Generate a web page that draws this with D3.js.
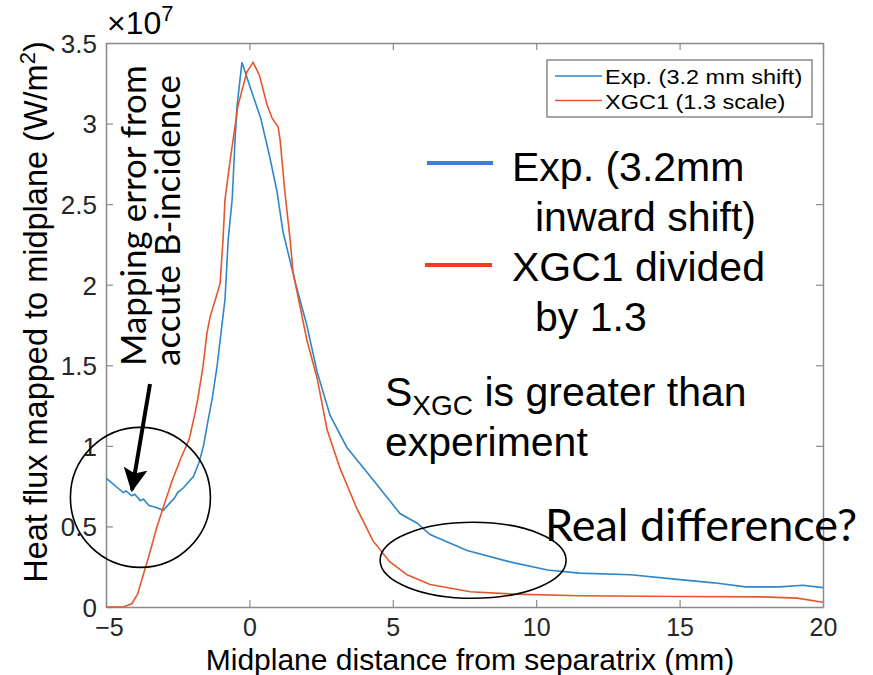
<!DOCTYPE html>
<html>
<head>
<meta charset="utf-8">
<script src="https://d3js.org/d3.v7.min.js"></script>
<title>Heat flux - Exp vs XGC1</title>
<style>
  body { margin: 0; background: #fff; }
  .tick text { font-family: "Liberation Sans", Arial, sans-serif; fill: #262626; }
  .big { font-family: "Liberation Sans", Arial, sans-serif; fill: #000; }
  .cal { font-family: Lato, "Open Sans", sans-serif; fill: #000; }
</style>
</head>
<body>
<div id="chart"></div>
<script>
// x in mm, heat flux in units of 1e7 W/m^2
var expX = [-5, -4.8, -4.6, -4.4, -4.3, -4.1, -4.0, -3.8, -3.7, -3.5, -3.3, -3.0, -2.8, -2.6, -2.5, -2.3, -2.1, -1.95,
            -1.75, -1.6, -1.45, -1.3, -1.13, -0.85, -0.74, -0.6, -0.5, -0.43, -0.26, 0.0, 0.4, 0.7, 0.96, 1.17, 1.59,
            2.0, 2.36, 2.81, 3.4, 4.31, 5.25, 5.85, 6.3, 7.59, 9.08, 10.4, 11.5, 13.3, 15, 16.2, 17.3, 18.5, 19.3, 20];
var expY = [0.80, 0.77, 0.74, 0.71, 0.72, 0.69, 0.70, 0.66, 0.67, 0.63, 0.62, 0.60, 0.64, 0.68, 0.71, 0.74, 0.78, 0.81,
            0.90, 1.00, 1.15, 1.29, 1.49, 1.91, 2.28, 2.53, 2.90, 3.11, 3.38, 3.24, 3.03, 2.80, 2.58, 2.33, 2.02,
            1.75, 1.46, 1.19, 0.99, 0.79, 0.58, 0.52, 0.45, 0.35, 0.28, 0.23, 0.21, 0.20, 0.17, 0.15, 0.125, 0.125, 0.135, 0.12];

var xgcX = [-5, -4.4, -4.1, -3.9, -3.75, -3.5, -3.22, -3.0, -2.7, -2.4, -2.1, -1.9, -1.8, -1.62, -1.48, -1.37, -1.15,
            -1.02, -0.92, -0.85, -0.68, -0.4, -0.09, 0.13, 0.35, 0.61, 0.8, 1.0, 1.07, 1.24, 1.42, 1.52, 2.0, 2.36,
            2.71, 3.16, 3.75, 4.31, 4.9, 5.5, 6.3, 7.7, 9.2, 11.5, 15, 17.9, 19.1, 20];
var xgcY = [0, 0, 0.02, 0.08, 0.17, 0.32, 0.50, 0.62, 0.78, 0.92, 1.04, 1.20, 1.29, 1.49, 1.70, 1.80, 1.93,
            2.01, 2.28, 2.53, 2.76, 3.11, 3.32, 3.38, 3.30, 3.12, 3.03, 2.98, 2.90, 2.57, 2.28, 2.08, 1.66, 1.42,
            1.10, 0.86, 0.61, 0.41, 0.28, 0.20, 0.14, 0.095, 0.08, 0.07, 0.065, 0.063, 0.055, 0.03];

var xTicks = [-5, 0, 5, 10, 15, 20];
var yTicks = [0, 0.5, 1, 1.5, 2, 2.5, 3, 3.5];
var legendNames = ["Exp. (3.2 mm shift)", "XGC1 (1.3 scale)"];
var colors = ["#2f86c8", "#e4572e"];

var W = 873, H = 675;
var margin = {left: 106, right: 50, top: 43, bottom: 68};
var pw = W - margin.left - margin.right, ph = H - margin.top - margin.bottom;

var svg = d3.select("#chart").append("svg").attr("width", W).attr("height", H);
var g = svg.append("g").attr("transform", "translate(" + margin.left + "," + margin.top + ")");

var x = d3.scaleLinear().domain([-5, 20]).range([0, pw]);
var y = d3.scaleLinear().domain([0, 3.5]).range([ph, 0]);

function styleAxis(sel) {
  sel.select(".domain").attr("stroke", "#8a8a8a").attr("stroke-width", 1.5);
  sel.selectAll(".tick line").attr("stroke", "#8a8a8a").attr("stroke-width", 1.2);
}

// bottom / left with labels
g.append("g").attr("transform", "translate(0," + ph + ")")
  .call(d3.axisBottom(x).tickValues(xTicks).tickSizeInner(-7).tickSizeOuter(0).tickPadding(11).tickFormat(d3.format("d")))
  .call(styleAxis)
  .selectAll("text").attr("font-size", 25).attr("dx", function(d){ return d === -5 ? 3 : 0; });
g.append("g")
  .call(d3.axisLeft(y).tickValues(yTicks).tickSizeInner(-7).tickSizeOuter(0).tickPadding(9).tickFormat(function(d){ return d; }))
  .call(styleAxis)
  .selectAll("text").attr("font-size", 26).attr("dy", "0.36em");
// mirrored top / right
g.append("g")
  .call(d3.axisTop(x).tickValues(xTicks).tickSizeInner(-7).tickSizeOuter(0).tickFormat(""))
  .call(styleAxis);
g.append("g").attr("transform", "translate(" + pw + ",0)")
  .call(d3.axisRight(y).tickValues(yTicks).tickSizeInner(-7).tickSizeOuter(0).tickFormat(""))
  .call(styleAxis);

// exponent
var ex = svg.append("text").attr("class", "big").attr("x", margin.left + 1).attr("y", 34)
  .attr("font-size", 32).attr("fill", "#262626");
ex.append("tspan").text("\u00d710");
ex.append("tspan").attr("font-size", 22).attr("dy", -13).text("7");

// axis labels
svg.append("text").attr("class", "big").attr("x", 470).attr("y", 670)
  .attr("text-anchor", "middle").attr("font-size", 30).attr("fill", "#262626")
  .text("Midplane distance from separatrix (mm)");
var yl = svg.append("text").attr("class", "big").attr("text-anchor", "middle")
  .attr("transform", "translate(47,312) rotate(-90)")
  .attr("font-size", 32.5).attr("fill", "#262626");
yl.append("tspan").text("Heat flux mapped to midplane (W/m");
yl.append("tspan").attr("font-size", 22).attr("dy", -12).text("2");
yl.append("tspan").attr("dy", 12).text(")");

// curves
var series = [
  {xs: expX, ys: expY, color: colors[0]},
  {xs: xgcX, ys: xgcY, color: colors[1]}
];
var line = d3.line().x(function(d){ return x(d[0]); }).y(function(d){ return y(d[1]); });
series.forEach(function(s) {
  var pts = s.xs.map(function(v, i){ return [v, s.ys[i]]; });
  g.append("path").datum(pts).attr("d", line)
    .attr("fill", "none").attr("stroke", s.color).attr("stroke-width", 1.6);
});

// matlab legend
var lg = svg.append("g").attr("transform", "translate(547,60)");
lg.append("rect").attr("width", 265).attr("height", 57).attr("fill", "#fff")
  .attr("stroke", "#777").attr("stroke-width", 1.3);
legendNames.forEach(function(n, i) {
  lg.append("line").attr("x1", 8).attr("x2", 55).attr("y1", 16 + i * 24.5).attr("y2", 16 + i * 24.5)
    .attr("stroke", colors[i]).attr("stroke-width", 1.3);
  lg.append("g").attr("transform", "translate(58," + (24 + i * 24.5) + ") scale(1.12,1)")
    .append("text").attr("class", "big").attr("font-size", 21).attr("fill", "#262626").text(n);
});

// slide annotations
svg.append("line").attr("x1", 427).attr("x2", 493).attr("y1", 163).attr("y2", 163)
  .attr("stroke", "#3d7be0").attr("stroke-width", 4);
svg.append("line").attr("x1", 425).attr("x2", 492).attr("y1", 265).attr("y2", 265)
  .attr("stroke", "#f23c1e").attr("stroke-width", 4);
var callouts = [
  {t: "Exp. (3.2mm", x: 512, y: 181},
  {t: "inward shift)", x: 535, y: 231},
  {t: "XGC1 divided", x: 512, y: 281},
  {t: "by 1.3", x: 535, y: 331},
  {t: "experiment", x: 385, y: 456}
];
callouts.forEach(function(c) {
  svg.append("text").attr("class", "big").attr("x", c.x).attr("y", c.y).attr("font-size", 41).text(c.t);
});
var sx = svg.append("text").attr("class", "big").attr("x", 385).attr("y", 406).attr("font-size", 41);
sx.append("tspan").text("S");
sx.append("tspan").attr("font-size", 28).attr("dy", 9).text("XGC");
sx.append("tspan").attr("dy", -9).text(" is greater than");

svg.append("text").attr("class", "cal").attr("x", 545).attr("y", 541).attr("font-size", 45).text("Real difference?");

var rt = svg.append("g").attr("transform", "translate(146,366) rotate(-90)");
rt.append("text").attr("class", "cal").attr("font-size", 35).text("Mapping error from");
rt.append("text").attr("class", "cal").attr("y", 34).attr("font-size", 35).text("accute B-incidence");

// circles
svg.append("circle").attr("cx", x(-3.8) + margin.left).attr("cy", y(0.68) + margin.top).attr("r", 70)
  .attr("fill", "none").attr("stroke", "#000").attr("stroke-width", 1.6);
svg.append("ellipse").attr("cx", x(7.8) + margin.left).attr("cy", y(0.29) + margin.top).attr("rx", 93).attr("ry", 38)
  .attr("fill", "none").attr("stroke", "#000").attr("stroke-width", 1.6);

// arrow
svg.append("defs").append("marker").attr("id", "ah").attr("viewBox", "0 0 10 10")
  .attr("refX", 9).attr("refY", 5).attr("markerWidth", 6).attr("markerHeight", 6).attr("orient", "auto")
  .append("path").attr("d", "M0,0 L10,5 L0,10 L2,5 Z").attr("fill", "#000");
svg.append("line").attr("x1", 150).attr("y1", 384).attr("x2", 132).attr("y2", 490)
  .attr("stroke", "#000").attr("stroke-width", 4).attr("marker-end", "url(#ah)");
</script>
</body>
</html>
